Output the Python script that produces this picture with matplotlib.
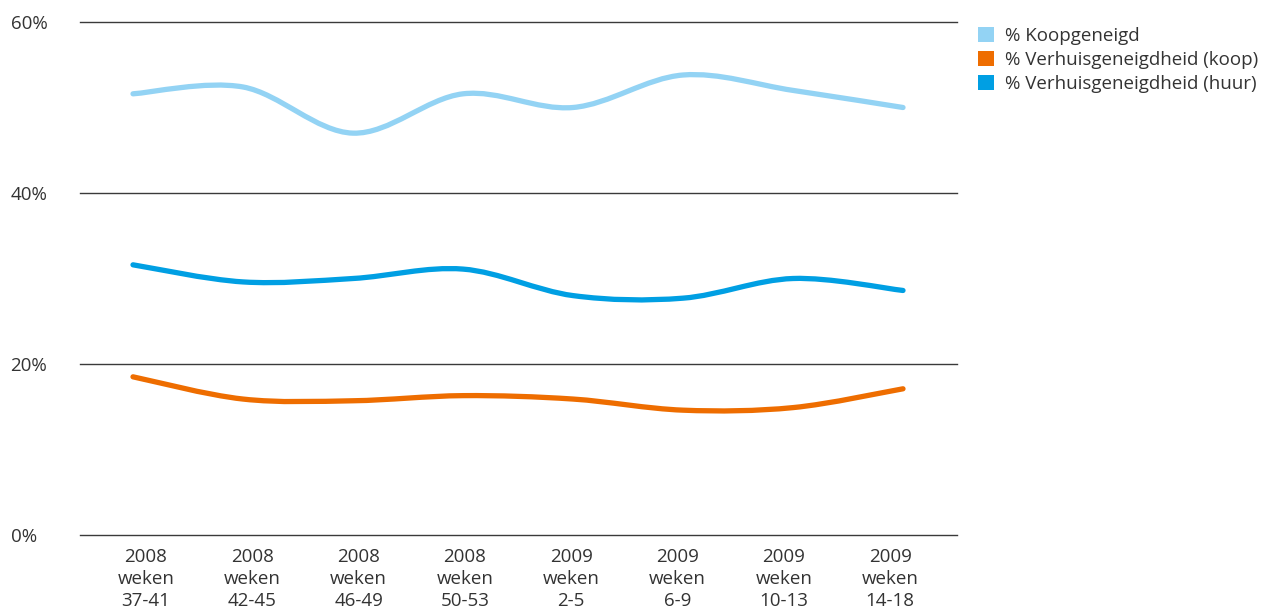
import numpy as np
import matplotlib
matplotlib.use("Agg")
import matplotlib.pyplot as plt
from matplotlib.path import Path
from matplotlib.patches import PathPatch, Patch

plt.rcParams['font.family'] = ['Open Sans', 'DejaVu Sans']

# data (percent)
categories = ["2008\nweken\n37-41", "2008\nweken\n42-45", "2008\nweken\n46-49",
              "2008\nweken\n50-53", "2009\nweken\n2-5", "2009\nweken\n6-9",
              "2009\nweken\n10-13", "2009\nweken\n14-18"]
koopgeneigd = [51.6, 52.4, 47.0, 51.6, 50.0, 53.8, 52.0, 50.0]
verhuis_koop = [18.5, 15.9, 15.7, 16.3, 15.9, 14.6, 14.9, 17.1]
verhuis_huur = [31.6, 29.6, 30.0, 31.1, 28.0, 27.7, 30.0, 28.6]

series_names = ["% Koopgeneigd", "% Verhuisgeneigdheid (koop)", "% Verhuisgeneigdheid (huur)"]
colors = ["#93d3f4", "#ee6d00", "#009fe3"]

def smooth_path(x, y, t=0.5):
    # catmull-rom through the points, as cubic bezier segments
    x = np.asarray(x, float)
    y = np.asarray(y, float)
    pts = np.column_stack([x, y])
    verts = [pts[0]]
    codes = [Path.MOVETO]
    n = len(pts)
    for i in range(n - 1):
        p0 = pts[i - 1] if i > 0 else pts[i]
        p1 = pts[i]
        p2 = pts[i + 1]
        p3 = pts[i + 2] if i + 2 < n else pts[i + 1]
        c1 = p1 + (p2 - p0) * t / 3.0
        c2 = p2 - (p3 - p1) * t / 3.0
        verts += [c1, c2, p2]
        codes += [Path.CURVE4] * 3
    return Path(verts, codes)

fig = plt.figure(figsize=(12.62, 6.13), dpi=100)
ax = fig.add_axes([80/1262, 1-535/613, (957-80)/1262, (535-22)/613])

xs = np.arange(len(categories))
for vals, c in zip([koopgeneigd, verhuis_koop, verhuis_huur], colors):
    patch = PathPatch(smooth_path(xs, vals, t=0.5), facecolor='none', edgecolor=c,
                      linewidth=3.8, capstyle='round', joinstyle='round', zorder=3)
    ax.add_patch(patch)

ax.set_xlim(-53/110, 7 + 54/110)
ax.set_ylim(0, 60)
ax.set_yticks([0, 20, 40, 60])
ax.set_yticklabels(["0%", "20%", "40%", "60%"])
for yv in [0, 20, 40, 60]:
    ax.axhline(yv, color='#3a3a3a', linewidth=1.0, zorder=1, clip_on=False)

ticks = 13/110 + xs * 106.3/110
ax.set_xticks(ticks)
ax.set_xticklabels(categories, linespacing=1.3)

for s in ax.spines.values():
    s.set_visible(False)
ax.tick_params(axis='both', length=0, labelsize=13.5, colors='#333333')
ax.tick_params(axis='x', pad=9)
for lab in ax.get_yticklabels():
    lab.set_horizontalalignment('left')
ax.tick_params(axis='y', pad=50)

handles = [Patch(facecolor=c, edgecolor='none') for c in colors]
fig.legend(handles, series_names, loc='upper left', bbox_to_anchor=(969/1262, 1-18/613),
           frameon=False, fontsize=13.5, handlelength=0.85, handleheight=0.85,
           handletextpad=0.55, labelspacing=0.3, labelcolor='#333333', borderpad=0)

fig.savefig("out.png", dpi=100)
